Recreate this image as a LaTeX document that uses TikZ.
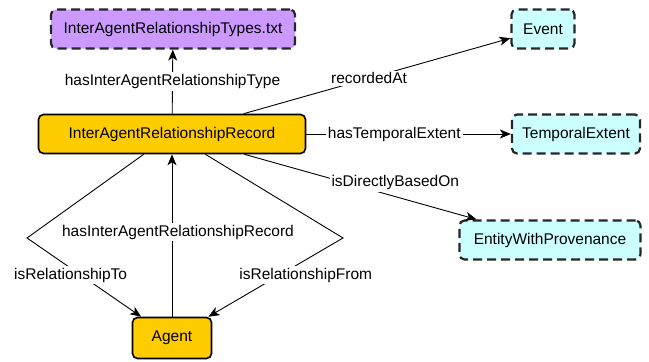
\documentclass[tikz,border=0pt]{standalone}
\usepackage{fontspec}
\setmainfont{Liberation Sans}
\usetikzlibrary{arrows.meta}
\definecolor{recgold}{HTML}{FFCC00}
\definecolor{extcyan}{HTML}{CCFFFF}
\definecolor{filepurple}{HTML}{CC99FF}
\tikzset{
	cls/.style={draw=black,line width=1.6pt,rounded corners=5pt,minimum height=39pt,inner sep=0pt,font=\fontsize{15.5}{18}\selectfont},
	owncls/.style={cls,fill=recgold},
	extcls/.style={cls,fill=extcyan,dash pattern=on 9pt off 5pt,line width=2.2pt,draw=black!85},
	filecls/.style={extcls,fill=filepurple},
	prop/.style={line width=0.9pt,-{Stealth[length=11pt,width=9pt,inset=3pt]}},
	lbl/.style={fill=white,inner sep=2pt,font=\fontsize{15.5}{18}\selectfont}
}
\begin{document}
\begin{tikzpicture}[x=1pt,y=-1pt]
			\useasboundingbox (0,0) rectangle (649,362);
			% classes
			\node[filecls,minimum width=244pt] (types) at (173,29) {InterAgentRelationshipTypes.txt};
			\node[owncls,minimum width=267pt] (record) at (172,134) {InterAgentRelationshipRecord};
			\node[extcls,minimum width=63pt] (event) at (543,29) {Event};
			\node[extcls,minimum width=128pt] (temporal) at (576,134) {TemporalExtent};
			\node[extcls,minimum width=181pt] (entity) at (550,240) {EntityWithProvenance};
			\node[owncls,minimum width=79pt,minimum height=41pt] (agent) at (172,338) {Agent};
			\coordinate (bendto) at (27,238);
			\coordinate (bendfrom) at (343,238);
			% properties
			\draw[prop] (record) -- node[lbl] {hasInterAgentRelationshipType} (types);
			\draw[prop] (record) -- node[lbl,pos=0.47] {recordedAt} (event);
			\draw[prop] (record) -- node[lbl,pos=0.43] {hasTemporalExtent} (temporal);
			\draw[prop] (record) -- node[lbl,pos=0.65,yshift=14pt] {isDirectlyBasedOn} (entity);
			\draw[prop] (agent) -- node[lbl,pos=0.52,xshift=6pt] {hasInterAgentRelationshipRecord} (record);
			\draw[prop] (record) -- (bendto) -- node[lbl,pos=0.47,xshift=-10pt] {isRelationshipTo} (agent);
			\draw[prop] (record) -- (bendfrom) -- node[lbl,pos=0.47,xshift=26pt] {isRelationshipFrom} (agent);
\end{tikzpicture}
\end{document}
